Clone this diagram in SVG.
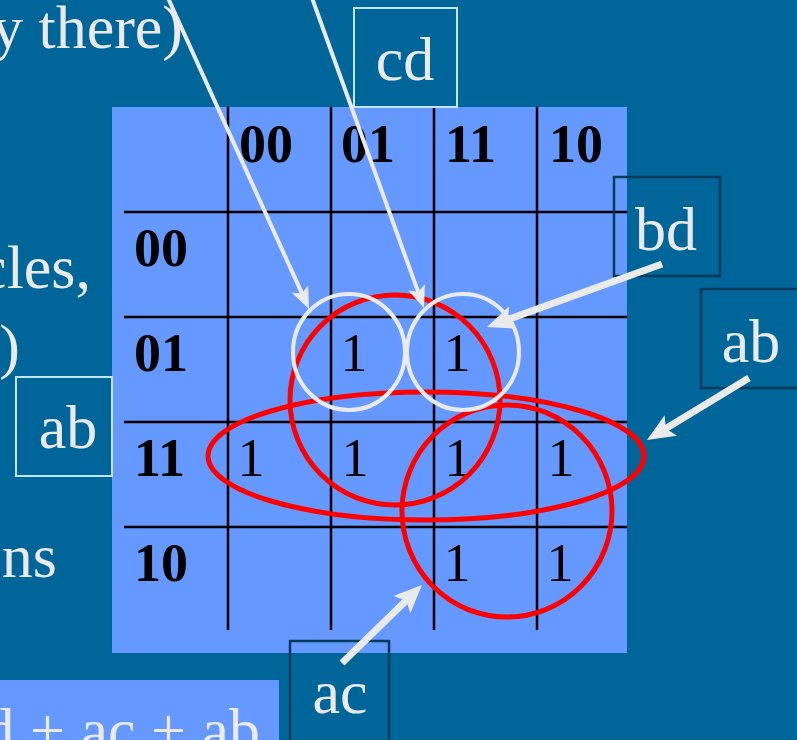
<svg xmlns="http://www.w3.org/2000/svg" width="797" height="740" viewBox="0 0 797 740">
<style>
.bg{fill:#006699}
.map{fill:#6699FF}
.grid{stroke:#000;stroke-width:2.5;fill:none}
.lbl{font-family:"Liberation Serif","Times New Roman",serif;font-size:62px;fill:#EAEAEA}
.hdr{font-family:"Liberation Serif","Times New Roman",serif;font-size:54px;font-weight:bold;fill:#000}
.one{font-family:"Liberation Serif","Times New Roman",serif;font-size:54px;fill:#000;text-anchor:middle}
.red{fill:none;stroke:#FF0000;stroke-width:5}
.wht{fill:none;stroke:#EAEAEA;stroke-width:4}
.boxL{fill:none;stroke:#C2E6F6;stroke-width:2}
.boxD{fill:none;stroke:#003C5A;stroke-width:2.5}
.thin{stroke:#EAEAEA;stroke-width:4;fill:none;marker-end:url(#ah)}
.bold{stroke:#EAEAEA;stroke-width:7;fill:none;marker-end:url(#ahb)}
</style>
<defs>
<marker id="ah" markerUnits="userSpaceOnUse" markerWidth="24" markerHeight="20" refX="12" refY="9" orient="auto">
<path d="M0,0 L22,9 L0,18 L5,9 z" fill="#EAEAEA"/>
</marker>
<marker id="ahb" markerUnits="userSpaceOnUse" markerWidth="30" markerHeight="26" refX="16" refY="12" orient="auto">
<path d="M0,0 L28,12 L0,24 L6,12 z" fill="#EAEAEA"/>
</marker>
</defs>
<rect class="bg" x="0" y="0" width="797" height="740"/>
<g id="side-text">
<text class="lbl" x="183" y="48" text-anchor="end">y there)</text>
<text class="lbl" x="91" y="288" text-anchor="end">cles,</text>
<text class="lbl" x="20" y="367" text-anchor="end">)</text>
<text class="lbl" x="57" y="577" text-anchor="end">ns</text>
</g>
<g id="formula">
<rect class="map" x="0" y="680" width="279" height="60"/>
<text class="lbl" x="260" y="751" text-anchor="end">d + ac + ab</text>
</g>
<g id="kmap">
<rect class="map" x="112" y="107" width="515" height="546"/>
<g class="grid">
<line x1="228" y1="107" x2="228" y2="630"/>
<line x1="331" y1="107" x2="331" y2="630"/>
<line x1="434" y1="107" x2="434" y2="630"/>
<line x1="537" y1="107" x2="537" y2="630"/>
<line x1="124" y1="212" x2="627" y2="212"/>
<line x1="124" y1="317" x2="627" y2="317"/>
<line x1="124" y1="422" x2="627" y2="422"/>
<line x1="124" y1="527" x2="627" y2="527"/>
</g>
<text class="hdr" x="239" y="162">00</text>
<text class="hdr" x="341" y="162">01</text>
<text class="hdr" x="445" y="162">11</text>
<text class="hdr" x="549" y="162">10</text>
<text class="hdr" x="134" y="266">00</text>
<text class="hdr" x="134" y="371">01</text>
<text class="hdr" x="134" y="476">11</text>
<text class="hdr" x="134" y="581">10</text>
<text class="one" x="354" y="371">1</text>
<text class="one" x="457" y="371">1</text>
<text class="one" x="251" y="476">1</text>
<text class="one" x="355" y="476">1</text>
<text class="one" x="458" y="476">1</text>
<text class="one" x="561" y="476">1</text>
<text class="one" x="457" y="581">1</text>
<text class="one" x="560" y="581">1</text>
</g>
<g id="groups">
<ellipse id="loop-bd" class="red" cx="395" cy="400" rx="105" ry="105"/>
<ellipse id="loop-ab" class="red" cx="426" cy="456" rx="218" ry="64"/>
<ellipse id="loop-ac" class="red" cx="507" cy="511" rx="105" ry="106"/>
<ellipse id="loop-w1" class="wht" cx="349" cy="352" rx="56" ry="58"/>
<ellipse id="loop-w2" class="wht" cx="463" cy="352" rx="56" ry="58"/>
</g>
<g id="node-cd">
<rect class="boxL" x="354" y="8" width="103" height="99"/>
<text class="lbl" x="405" y="80" text-anchor="middle">cd</text>
</g>
<g id="node-bd">
<rect class="boxD" x="614" y="177" width="106" height="99"/>
<text class="lbl" x="666" y="250" text-anchor="middle">bd</text>
</g>
<g id="node-ab-right">
<rect class="boxD" x="701" y="289" width="100" height="99"/>
<text class="lbl" x="751" y="362" text-anchor="middle">ab</text>
</g>
<g id="node-ab-left">
<rect class="boxL" x="16" y="377" width="96" height="99"/>
<text class="lbl" x="68" y="448" text-anchor="middle">ab</text>
</g>
<g id="node-ac">
<rect class="boxD" x="290" y="641" width="99" height="104"/>
<text class="lbl" x="340" y="713" text-anchor="middle">ac</text>
</g>
<g id="connectors">
<line class="thin" x1="168" y1="-2" x2="304.9" y2="299.9"/>
<line class="thin" x1="312" y1="-2" x2="420.6" y2="298.6"/>
<line class="bold" x1="662" y1="264" x2="498.3" y2="322.9"/>
<line class="bold" x1="749" y1="378" x2="657.2" y2="433.8"/>
<line class="bold" x1="342" y1="663" x2="413.4" y2="593.4"/>
</g>
</svg>
